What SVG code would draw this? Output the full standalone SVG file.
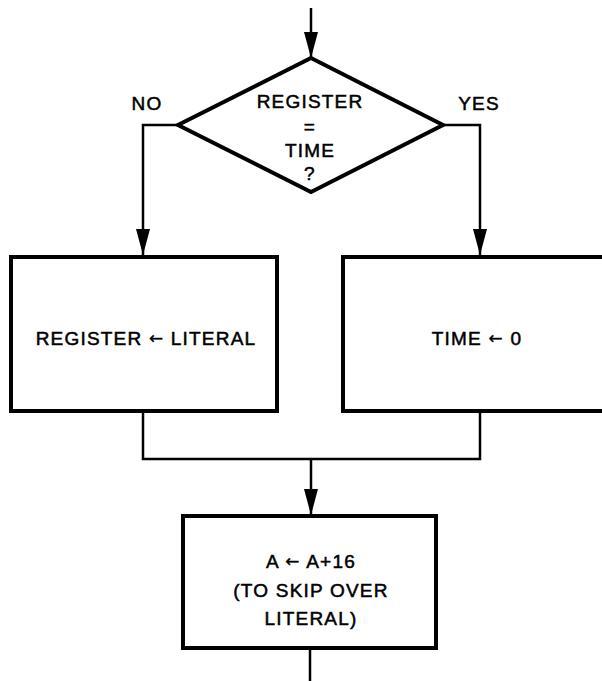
<svg xmlns="http://www.w3.org/2000/svg" width="602" height="681" viewBox="0 0 602 681">
<defs>
<style>
.node{fill:#fff;stroke:#000;stroke-width:4}
.conn{fill:none;stroke:#000;stroke-width:2.5}
text{font-family:"Liberation Sans",Arial,sans-serif;font-size:19px;fill:#000;stroke:#000;stroke-width:0.5;letter-spacing:1.2px;text-anchor:middle;dominant-baseline:central}
.arr{font-family:"DejaVu Sans",sans-serif;font-size:17px;stroke-width:0.3}
</style>
<marker id="ah" viewBox="0 0 26 14" refX="26" refY="7" markerWidth="26" markerHeight="14" markerUnits="userSpaceOnUse" orient="auto">
<path d="M0,0 L26,7 L0,14 z" fill="#000"/>
</marker>
</defs>
<rect width="602" height="681" fill="#fff"/>
<g id="connectors">
<line class="conn" x1="311" y1="8" x2="311" y2="58" marker-end="url(#ah)"/>
<polyline class="conn" points="178,125 143,125 143,255" marker-end="url(#ah)"/>
<polyline class="conn" points="443,125 480,125 480,255" marker-end="url(#ah)"/>
<polyline class="conn" points="143,411 143,459 480,459 480,411"/>
<line class="conn" x1="311" y1="459" x2="311" y2="515" marker-end="url(#ah)"/>
<line class="conn" x1="310" y1="648" x2="310" y2="681"/>
<text x="147" y="103">NO</text>
<text x="479" y="103">YES</text>
</g>
<g id="decision">
<polygon class="node" points="311,58 443,125 311,192 178,125"/>
<text x="310" y="101">REGISTER</text>
<text x="310" y="126">=</text>
<text x="310" y="150">TIME</text>
<text x="310" y="173">?</text>
</g>
<g id="assign-literal">
<rect class="node" x="11" y="257" width="266" height="154"/>
<text x="146" y="338">REGISTER <tspan class="arr">←</tspan> LITERAL</text>
</g>
<g id="reset-time">
<rect class="node" x="343" y="257" width="275" height="154"/>
<text x="477" y="338">TIME <tspan class="arr">←</tspan> 0</text>
</g>
<g id="skip-literal">
<rect class="node" x="183" y="516" width="253" height="132"/>
<text x="311" y="561">A <tspan class="arr">←</tspan> A+16</text>
<text x="311" y="590">(TO SKIP OVER</text>
<text x="311" y="618">LITERAL)</text>
</g>
</svg>
